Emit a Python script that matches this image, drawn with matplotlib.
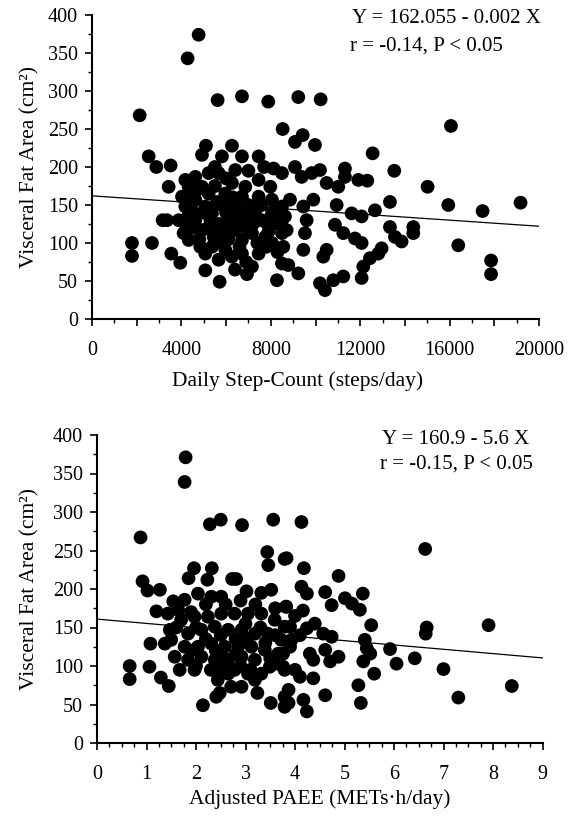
import matplotlib
matplotlib.use("Agg")
import matplotlib.pyplot as plt
from matplotlib.ticker import MultipleLocator, FuncFormatter
import numpy as np

plt.rcParams['font.family'] = ['Liberation Serif', 'DejaVu Serif']

# ---- Top panel: daily step count vs visceral fat area ----
top_pts = [
    (4771,374),(4279,343),(5621,288),(6710,293),(7887,286),(8530,250),(2132,268),(2535,214),
    (2878,200),(3519,202),(3429,174),(5099,228),(4920,216),(6262,228),(5815,214),(6710,214),
    (7455,214),(8126,198),(8499,192),(3161,130),(3355,130),(1789,100),(1789,83),(2684,100),
    (3549,86),(3951,74),(5069,64),(5710,49),(8275,51),(6933,59),(7157,69),
    (4175,183),(4026,161),(3877,130),(4100,113),(4324,104),(4846,95),(5368,95),(5964,91),
    (6262,82),(6710,86),(7455,86),(8051,100),(8499,113),(8499,73),(4622,187),(5219,192),
    (5666,192),(6411,196),(7455,183),(7977,174),(4622,157),(5219,165),(5964,165),(6710,161),
    (7455,161),(8051,157),(4622,130),(5368,139),(6113,135),(6859,139),(7604,130),(8201,126),
    (4920,117),(5666,113),(6411,117),(7157,113),(7753,108),(4473,143),(6262,148),(7157,148),
    (5069,148),(5964,121),(6710,104),(5442,108),(4175,148),(4324,174),(4920,174),(6262,179),
    (6859,174),(5591,154),(6486,130),(7231,126),(4175,126),(5069,86),(5666,78),(7828,126),
    (8051,139),(8499,148),(8499,130),
    (4400,160),(4700,170),(5000,140),(5300,130),(5500,175),(5800,150),(6000,140),(6300,160),
    (6500,145),(6800,125),(7000,150),(7300,140),(7600,150),(7900,115),(8200,145),(4500,120),
    (4800,105),(5200,120),(5700,125),(6100,105),(6600,95),(7000,115),(7400,100),(7800,95),
    (8300,88),(5500,200),(6000,185),(7000,195),(7700,200),(4300,135),(5800,100),(6900,75),
    (6400,65),
    (9231,292),(10230,289),(16060,254),(9425,242),(9082,233),(9977,229),(12556,218),(9082,200),
    (10200,196),(11318,198),(9380,187),(9827,192),(10498,179),(11020,174),(11318,187),(11915,183),
    (12317,182),(13525,195),(15016,174),(13331,154),(15941,150),(17476,142),(10946,150),(11617,139),
    (12064,135),(12660,143),(8858,157),(9455,148),(9902,157),(8635,135),(9604,130),(10871,124),
    (11244,113),(11766,106),(12064,100),(13331,121),(13555,108),(13853,102),(14375,121),(14375,113),
    (16388,97),(9529,113),(8709,117),(8560,95),(9455,91),(10498,91),(10349,82),(8784,71),
    (9231,60),(10200,47),(10424,38),(10797,51),(11244,56),(12064,54),(12139,69),(12437,80),
    (12809,86),(12958,93),
    (17856,77),(17856,59),(19175,153),
]
steps = [p[0] for p in top_pts]
vfa_top = [p[1] for p in top_pts]
top_intercept, top_slope = 162.055, -0.002
top_eq = "Y = 162.055 - 0.002 X"
top_r = "r = -0.14, P < 0.05"

# ---- Bottom panel: adjusted PAEE vs visceral fat area ----
bot_pts = [
    (1.79,371),(1.77,339),(2.28,284),(2.50,290),(2.93,283),(3.56,290),(0.88,267),(3.44,248),
    (3.46,231),(3.79,239),(1.96,227),(1.85,214),(2.32,227),(2.23,212),(2.73,213),(2.81,213),
    (0.92,210),(1.02,198),(1.27,199),(1.54,184),(1.20,171),(3.02,197),(3.32,195),(3.52,199),
    (3.82,177),(1.08,129),(0.66,100),(0.66,83),(1.06,99),(1.29,85),(1.45,74),(2.14,49),
    (2.41,60),(2.48,65),(3.51,52),(3.79,47),(3.79,60),(3.24,65),(3.19,82),(2.92,73),(2.65,90),
    (1.43,168),(1.47,147),(1.37,129),(1.57,112),(1.67,95),(1.97,95),(1.77,186),(2.04,194),
    (2.31,190),(2.51,190),(1.70,160),(1.97,164),(2.24,164),(2.51,168),(2.78,168),(3.05,168),
    (3.32,168),(3.59,160),(3.79,151),(1.84,142),(2.11,147),(2.38,151),(2.65,147),(2.92,147),
    (3.19,142),(3.45,142),(3.72,134),(1.77,125),(2.04,125),(2.31,129),(2.58,125),(2.85,125),
    (3.12,125),(3.39,121),(3.66,116),(1.84,108),(2.11,112),(2.38,108),(2.65,108),(2.92,112),
    (3.19,108),(3.59,103),(3.79,95),(2.51,95),(2.78,95),(2.44,82),(2.71,73),(3.05,90),
    (3.32,90),(3.49,99),(1.50,134),(1.64,173),
    (1.90,170),(2.20,180),(2.60,180),(2.90,185),(3.20,180),(3.60,175),(2.00,150),(2.50,140),
    (2.80,135),(3.00,155),(3.30,150),(3.60,140),(1.90,120),(2.20,135),(2.50,115),(2.80,115),
    (3.00,135),(3.40,130),(2.00,100),(2.30,95),(2.60,100),(2.90,100),(3.10,95),(3.50,110),
    (3.90,125),(4.10,140),(4.40,155),(4.00,165),(2.40,120),(1.60,150),
    (4.13,287),(6.63,252),(3.83,240),(4.18,227),(4.88,217),(4.13,203),(4.24,194),(4.61,196),
    (5.01,188),(5.15,181),(5.37,194),(4.74,179),(5.31,173),(3.82,177),(4.16,172),(5.54,153),
    (6.66,150),(6.64,142),(7.91,153),(3.90,151),(4.24,149),(4.57,142),(4.74,138),(5.41,134),
    (3.93,134),(5.45,123),(5.92,122),(5.52,116),(4.30,116),(4.61,121),(4.88,112),(4.71,106),
    (4.37,108),(6.05,103),(6.42,110),(5.38,106),(5.60,90),(7.00,96),(3.76,116),(3.76,99),
    (4.00,95),(4.10,86),(4.37,84),(5.28,75),(5.33,52),(4.61,62),(3.87,69),(3.87,52),
    (4.17,56),(4.24,41),(7.30,59),
    (8.38,74),
]
paee = [p[0] for p in bot_pts]
vfa_bot = [p[1] for p in bot_pts]
bot_intercept, bot_slope = 160.9, -5.6
bot_eq = "Y = 160.9 - 5.6 X"
bot_r = "r = -0.15, P < 0.05"

ylabel = "Visceral Fat Area (cm²)"
top_xlabel = "Daily Step-Count (steps/day)"
bot_xlabel = "Adjusted PAEE (METs·h/day)"

W, H = 576, 816
fig = plt.figure(figsize=(W/100, H/100), dpi=100)

def ax_rect(l, r, b, t):
    return [l/W, 1 - b/H, (r-l)/W, (b-t)/H]

ax1 = fig.add_axes(ax_rect(92, 539, 319, 15))
ax2 = fig.add_axes(ax_rect(97, 542.5, 743, 435))

MS = 98
TICK_FS = 14.5
LAB_FS = 15.5
ANN_FS = 15

def style(ax):
    for s in ['top', 'right']:
        ax.spines[s].set_visible(False)
    for s in ['left', 'bottom']:
        ax.spines[s].set_linewidth(1.5)
        ax.spines[s].set_color('black')
    ax.tick_params(which='major', direction='out', length=5, width=1.2,
                   labelsize=TICK_FS, colors='black')
    ax.tick_params(which='minor', direction='out', length=3, width=1.0)
    ax.tick_params(axis='x', which='major', pad=11)
    ax.tick_params(axis='y', which='major', pad=5)
    ax.set_ylim(0, 400)
    ax.yaxis.set_major_locator(MultipleLocator(50))
    ax.yaxis.set_minor_locator(MultipleLocator(25))

# top
ax1.scatter(steps, vfa_top, s=MS, c='black', edgecolors='none', zorder=3)
xl = np.array([0, 20000])
ax1.plot(xl, top_intercept + top_slope*xl, color='black', lw=0.9, zorder=2)
ax1.set_xlim(0, 20000)
style(ax1)
ax1.xaxis.set_major_locator(MultipleLocator(2000))
ax1.xaxis.set_minor_locator(MultipleLocator(1000))
ax1.xaxis.set_major_formatter(FuncFormatter(lambda v, p: f"{int(round(v))}" if int(round(v)) % 4000 == 0 else ""))
ax1.set_xlabel(top_xlabel, fontsize=LAB_FS)
ax1.xaxis.set_label_coords(0.46, -0.172)
ax1.xaxis.label.set_va('top')
ax1.set_ylabel(ylabel, fontsize=LAB_FS)
ax1.yaxis.set_label_coords(-0.117, 0.5)
ax1.text(0.581, 0.99, top_eq, transform=ax1.transAxes, fontsize=ANN_FS, ha='left', va='center')
ax1.text(0.577, 0.898, top_r, transform=ax1.transAxes, fontsize=ANN_FS, ha='left', va='center')

# bottom
ax2.scatter(paee, vfa_bot, s=MS, c='black', edgecolors='none', zorder=3)
xl2 = np.array([0, 9])
ax2.plot(xl2, bot_intercept + bot_slope*xl2, color='black', lw=0.9, zorder=2)
ax2.set_xlim(0, 9)
style(ax2)
ax2.xaxis.set_major_locator(MultipleLocator(1))
ax2.xaxis.set_minor_locator(MultipleLocator(0.25))
ax2.set_xlabel(bot_xlabel, fontsize=LAB_FS)
ax2.xaxis.set_label_coords(0.5, -0.15)
ax2.xaxis.label.set_va('top')
ax2.set_ylabel(ylabel, fontsize=LAB_FS)
ax2.yaxis.set_label_coords(-0.128, 0.5)
ax2.text(0.639, 0.984, bot_eq, transform=ax2.transAxes, fontsize=ANN_FS, ha='left', va='center')
ax2.text(0.635, 0.906, bot_r, transform=ax2.transAxes, fontsize=ANN_FS, ha='left', va='center')

fig.savefig("out.png", dpi=100, facecolor='white')
